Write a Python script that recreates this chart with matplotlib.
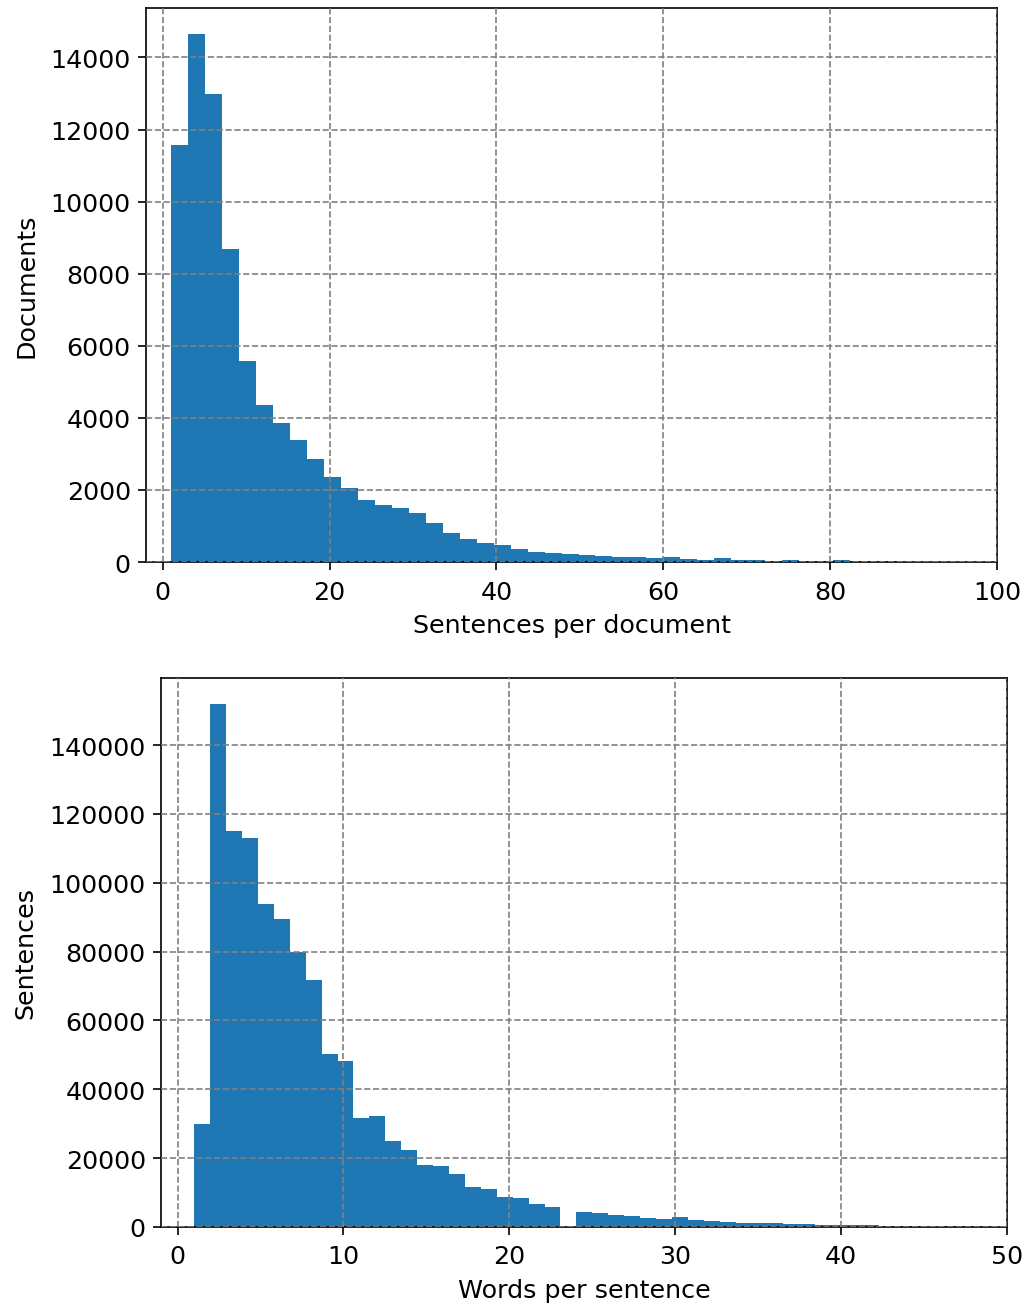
import numpy as np
import matplotlib
matplotlib.use("Agg")
from matplotlib import pyplot as plt

# sentences per document: 50 bins between the min and max length
doc_range = (1, 102.75)
doc_counts = [
    11570, 14640, 12990, 8680, 5565, 4345, 3850, 3375, 2850, 2370,
    2045, 1735, 1595, 1490, 1350, 1070, 795, 645, 533, 477,
    364, 280, 240, 222, 195, 167, 145, 139, 111, 139,
    83, 56, 111, 56, 56, 28, 56, 30, 30, 56,
    20, 18, 15, 12, 8, 6, 5, 4, 3, 2,
]

# words per sentence: 50 bins between the min and max length
sent_range = (1, 49)
sent_counts = [
    30050, 151900, 115000, 113100, 93900, 89500, 79900, 71800, 50400, 48300,
    31800, 32100, 25100, 22500, 18100, 17600, 15400, 11600, 10960, 8650,
    8370, 6630, 5770, 0, 4330, 4040, 3460, 3170, 2700, 2400,
    3000, 2120, 1750, 1460, 1180, 1180, 1180, 880, 880, 620,
    640, 600, 570, 380, 350, 330, 0, 320, 300, 290,
]

plt.rcParams["font.family"] = ["DejaVu Sans"]
plt.rcParams["font.size"] = 12.2
plt.rcParams["xtick.major.pad"] = 4.6
plt.rcParams["xtick.major.size"] = 3.8
plt.rcParams["ytick.major.size"] = 3.8

fig = plt.figure(figsize=(1029 / 150, 1310 / 150), dpi=150)
ax_doc = fig.add_axes([0.1419, 0.5702, 0.8270, 0.4229])
ax_sent = fig.add_axes([0.1565, 0.0626, 0.8221, 0.4191])


def draw_hist(ax, counts, value_range, xlim, xlabel, ylabel):
    edges = np.linspace(value_range[0], value_range[1], len(counts) + 1)
    ax.hist(edges[:-1], bins=edges, weights=counts, color="#1f77b4")
    ax.set_xlim(*xlim)
    ax.set_xlabel(xlabel, labelpad=4.5)
    ax.set_ylabel(ylabel, labelpad=6)
    ax.set_axisbelow(False)
    ax.grid(True, linestyle="--", color="gray", linewidth=0.8)


draw_hist(ax_doc, doc_counts, doc_range, (-2, 100),
          "Sentences per document", "Documents")
draw_hist(ax_sent, sent_counts, sent_range, (-1, 50),
          "Words per sentence", "Sentences")

fig.savefig("out.png", dpi=150)
